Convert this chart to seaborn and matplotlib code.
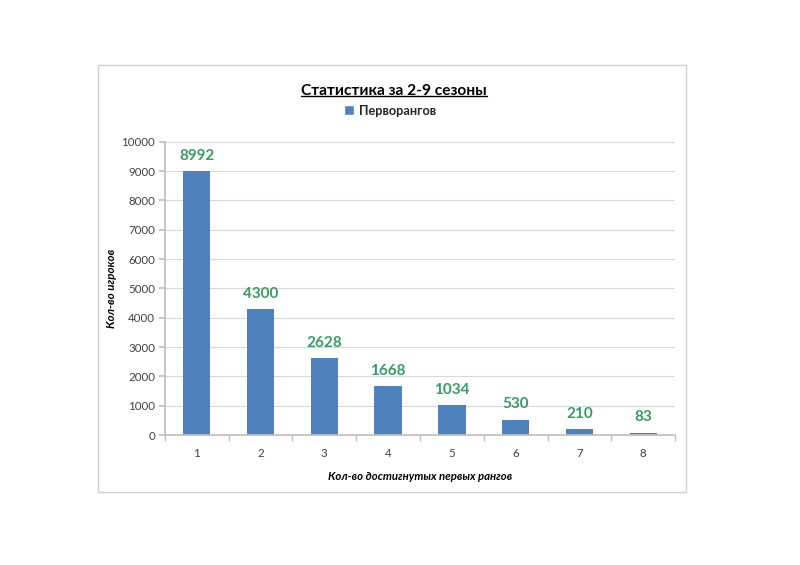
import matplotlib
matplotlib.use("Agg")
import matplotlib.pyplot as plt
import pandas as pd
import seaborn as sns
from matplotlib.lines import Line2D
from matplotlib.patches import Rectangle

ranks = [1, 2, 3, 4, 5, 6, 7, 8]
players = [8992, 4300, 2628, 1668, 1034, 530, 210, 83]
series_name = "Перворангов"

BAR = "#4F81BD"
LABEL = "#3A9A63"

sns.set_theme(style="white")
plt.rcParams["font.family"] = ["Lato", "DejaVu Sans"]

df = pd.DataFrame({"rank": [str(r) for r in ranks], "players": players})

fig = plt.figure(figsize=(8, 5.65), dpi=100)
fig.patches.append(Rectangle((0.1225, 0.129), 0.735, 0.756, transform=fig.transFigure,
                             fill=False, edgecolor="#D0D0D0", linewidth=1.0))
ax = fig.add_axes([0.206, 0.230, 0.638, 0.519])

sns.barplot(data=df, x="rank", y="players", color=BAR, saturation=1, width=0.43,
            linewidth=0, ax=ax)
ax.set_ylim(0, 10000)
ax.set_yticks(range(0, 10001, 1000))
ax.yaxis.grid(True, color="#D9D9D9", linewidth=0.8)
ax.set_axisbelow(True)
for s in ["top", "right"]:
    ax.spines[s].set_visible(False)
ax.spines["left"].set_color("#BFBFBF")
ax.spines["bottom"].set_color("#BFBFBF")
ax.tick_params(axis="y", labelsize=8.3, colors="#404040", length=4, color="#BFBFBF", left=True, pad=3)
ax.tick_params(axis="x", labelsize=8.3, colors="#404040", length=0, pad=9)
# tick marks between categories
ax.set_xticks([i - 0.5 for i in range(len(ranks) + 1)], minor=True)
ax.tick_params(axis="x", which="minor", length=4, color="#BFBFBF", bottom=True)
ax.set_xlim(-0.5, len(ranks) - 0.5)

for i, v in enumerate(players):
    ax.text(i, v + 280, str(v), ha="center", va="bottom", color=LABEL,
            fontsize=11, fontweight="bold")

ax.set_xlabel("Кол-во достигнутых первых рангов", fontsize=8.2, fontweight="bold",
              fontstyle="italic", labelpad=9, color="#000000")
ax.set_ylabel("Кол-во игроков", fontsize=8.4, fontweight="bold",
              fontstyle="italic", labelpad=3, color="#000000")

title = fig.text(0.4925, 0.839, "Статистика за 2-9 сезоны", ha="center", va="center",
                 fontsize=11.2, fontweight="bold", color="#000000")
handle = Rectangle((0, 0), 1, 1, facecolor=BAR)
fig.legend([handle], [series_name], loc="center", bbox_to_anchor=(0.4875, 0.804),
           frameon=False, handlelength=0.8, handleheight=0.8,
           handletextpad=0.4, prop={"weight": "bold", "size": 9.2})

fig.canvas.draw()
bb = title.get_window_extent().transformed(fig.transFigure.inverted())
fig.lines.append(Line2D([bb.x0, bb.x1], [bb.y0 + 0.004, bb.y0 + 0.004],
                        transform=fig.transFigure, color="#000000", linewidth=1.0))

fig.savefig("out.png", dpi=100, facecolor="white")
